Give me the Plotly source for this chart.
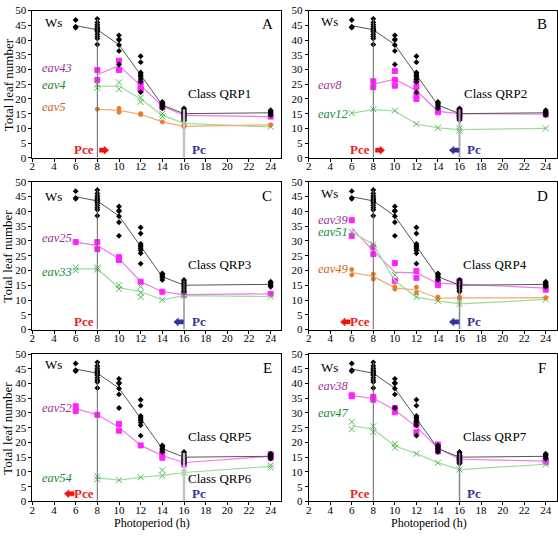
import plotly.graph_objects as go

# ---------------- data ----------------
photoperiods = [6, 8, 10, 12, 14, 16, 24]
x_ticks = [2, 4, 6, 8, 10, 12, 14, 16, 18, 20, 22, 24]
y_ticks = [0, 5, 10, 15, 20, 25, 30, 35, 40, 45, 50]

# wild type (Ws) individual plants and means
ws_points = [
    [44.2, 44.5, 46.8],
    [38.5, 40.5, 41.2, 42.0, 42.8, 43.2, 43.6, 44.0, 44.5, 45.2, 46.0, 47.2],
    [31.7, 36.3, 38.3, 40.0, 40.3, 41.6],
    [22.3, 25.8, 26.8, 27.5, 28.0, 28.5, 29.0, 32.5, 34.5],
    [16.8, 17.5, 18.0, 18.5, 18.8, 19.0],
    [12.8, 13.3, 14.0, 14.5, 15.0, 15.5, 16.0, 16.5, 16.8],
    [14.5, 15.0, 15.5, 15.8, 16.2],
]
ws_mean = [44.9, 43.5, 38.4, 28.3, 17.9, 15.0, 15.3]

# Panel A
eav43_x = [8, 10, 12, 14, 16, 24]
eav43_mean = [28.2, 31.3, 24.6, 17.6, 14.4, 14.0]
eav43_pts = [[26.5, 29.8], [29.8, 33.0], [23.2, 23.6, 25.5], [17.3, 18.0], [14.0, 15.0], [14.0]]
eav4_x = [8, 10, 12, 14, 16, 24]
eav4_mean = [24.3, 24.4, 20.0, 14.5, 11.7, 10.5]
eav4_pts = [[23.8, 24.8], [23.3, 25.6], [19.0, 20.5], [14.0, 15.0], [11.5, 12.0], [10.5]]
eav5_x = [8, 10, 12, 14, 16, 24]
eav5_mean = [16.5, 16.1, 14.8, 12.2, 10.7, 11.2]
eav5_pts = [[16.5], [15.5, 16.8], [14.7, 15.0], [12.2], [10.5, 11.0], [11.2]]

# Panel B
eav8_x = [8, 10, 12, 14, 16, 24]
eav8_mean = [25.0, 26.7, 22.8, 15.8, 15.0, 14.8]
eav8_pts = [[24.0, 26.0], [24.5, 26.5, 29.5], [20.0, 21.2, 24.0, 26.0], [15.5, 16.2], [13.8, 14.5, 15.5, 16.0], [14.7]]
eav12_x = [6, 8, 10, 12, 14, 16, 24]
eav12_mean = [15.2, 16.4, 15.9, 11.5, 10.2, 9.6, 10.0]
eav12_pts = [[15.2], [16.5], [16.0], [11.5], [10.2], [9.2, 10.0], [10.0]]

# Panel C
eav25_x = [6, 8, 10, 12, 14, 16, 24]
eav25_mean = [29.6, 28.4, 24.0, 16.2, 12.8, 11.8, 12.1]
eav25_pts = [[29.6], [27.2, 29.6], [23.5, 24.5], [16.2], [12.8], [11.8], [12.1]]
eav33_x = [6, 8, 10, 12, 14, 16, 24]
eav33_mean = [20.5, 20.5, 14.2, 12.8, 10.1, 11.5, 11.2]
eav33_pts = [[20.0, 21.0], [20.3, 21.0], [13.7, 15.0], [11.0, 12.5, 14.5], [10.1], [11.5], [11.2]]

# Panel D
eav39_x = [6, 8, 10, 12, 14, 16, 24]
eav39_mean = [34.3, 26.6, 19.4, 19.2, 15.6, 15.4, 14.0]
eav39_pts = [[31.7, 37.0], [25.5, 27.8], [16.5, 22.5], [17.5, 19.8], [15.0, 15.8, 16.2], [14.5, 15.5, 16.5], [13.5, 14.5]]
eav51_x = [6, 8, 10, 12, 14, 16, 24]
eav51_mean = [33.0, 28.8, 16.5, 11.0, 9.7, 8.7, 10.2]
eav51_pts = [[33.0], [28.8], [18.5], [11.0], [9.7], [8.7], [10.2]]
eav49_x = [6, 8, 10, 12, 14, 16, 24]
eav49_mean = [19.3, 18.0, 14.1, 13.4, 10.6, 10.7, 10.8]
eav49_pts = [[18.5, 20.3], [17.1, 18.8], [13.7, 14.5], [12.5, 14.3], [10.5, 11.0], [10.5, 11.0], [10.8]]

# Panel E
eav52_x = [6, 8, 10, 12, 14, 16, 24]
eav52_mean = [31.5, 29.4, 25.2, 19.0, 15.5, 13.2, 15.3]
eav52_pts = [[30.7, 32.3], [29.4], [24.0, 26.3], [19.0], [14.8, 16.3], [12.5, 13.8], [14.8, 15.5, 16.0]]
eav54_x = [8, 10, 12, 14, 16, 24]
eav54_mean = [8.0, 7.2, 8.2, 8.8, 9.8, 11.9]
eav54_pts = [[7.5, 8.5], [7.2], [8.2], [8.7, 10.6], [9.8], [11.5, 12.3]]

# Panel F
eav38_x = [6, 8, 10, 12, 14, 16, 24]
eav38_mean = [35.8, 35.0, 31.0, 25.3, 18.1, 14.3, 13.7]
eav38_pts = [[35.7, 36.0], [34.5, 35.5], [30.3, 31.7], [23.5, 26.0, 26.5], [17.0, 18.0, 19.3], [13.8, 14.8], [13.3, 14.0]]
eav47_x = [6, 8, 10, 12, 14, 16, 24]
eav47_mean = [25.7, 24.5, 18.8, 16.2, 13.1, 10.8, 12.6]
eav47_pts = [[24.5, 27.0], [23.5, 25.5], [18.2, 19.5], [16.2], [13.1], [10.8], [12.6]]

panel_letters = ["A", "B", "C", "D", "E", "F"]
class_labels = ["Class QRP1", "Class QRP2", "Class QRP3", "Class QRP4", "Class QRP5", "Class QRP7"]

# ---------------- styles ----------------
STY = {
    "mag": dict(line="#ee77ee", mk="#ff22ff", sym="square", size=5, lab="#993399"),
    "grn": dict(line="#99dd99", mk="#55bb55", sym="x-thin-open", size=6, lab="#228833"),
    "org": dict(line="#f4a86a", mk="#e87a2a", sym="circle", size=4, lab="#cc6622"),
}

panels = [
    dict(series=[("eav43", "mag", eav43_x, eav43_mean, eav43_pts, 30.5),
                 ("eav4", "grn", eav4_x, eav4_mean, eav4_pts, 24.7),
                 ("eav5", "org", eav5_x, eav5_mean, eav5_pts, 17.3)],
         ws_y=46.0, v16=("#c4c4c4", 2.5), pce_arrow="right", pc_arrow=None),
    dict(series=[("eav8", "mag", eav8_x, eav8_mean, eav8_pts, 24.7),
                 ("eav12", "grn", eav12_x, eav12_mean, eav12_pts, 15.0)],
         ws_y=46.2, v16=("#aaaaaa", 2.0), pce_arrow="right", pc_arrow="left"),
    dict(series=[("eav25", "mag", eav25_x, eav25_mean, eav25_pts, 31.1),
                 ("eav33", "grn", eav33_x, eav33_mean, eav33_pts, 19.6)],
         ws_y=45.0, v16=("#777777", 1.2), pce_arrow=None, pc_arrow="left"),
    dict(series=[("eav39", "mag", eav39_x, eav39_mean, eav39_pts, 37.2),
                 ("eav51", "grn", eav51_x, eav51_mean, eav51_pts, 32.9),
                 ("eav49", "org", eav49_x, eav49_mean, eav49_pts, 20.5)],
         ws_y=46.0, v16=("#888888", 1.5), pce_arrow="left", pc_arrow="left"),
    dict(series=[("eav52", "mag", eav52_x, eav52_mean, eav52_pts, 31.6),
                 ("eav54", "grn", eav54_x, eav54_mean, eav54_pts, 8.0)],
         ws_y=46.4, v16=("#c4c4c4", 2.5), pce_arrow="left", pc_arrow=None),
    dict(series=[("eav38", "mag", eav38_x, eav38_mean, eav38_pts, 39.3),
                 ("eav47", "grn", eav47_x, eav47_mean, eav47_pts, 30.1)],
         ws_y=45.4, v16=("#888888", 1.5), pce_arrow=None, pc_arrow=None),
]

col_dom = [[29.5 / 558, 280 / 558], [307.3 / 558, 556.5 / 558]]
row_dom = [[1 - 155.3 / 538, 1 - 4.7 / 538],
           [1 - 331 / 538, 1 - 179.7 / 538],
           [1 - 506.7 / 538, 1 - 356 / 538]]

SERIF = "Liberation Serif"
fig = go.Figure()
annotations = []
shapes = []


def flat(xs, pts):
    fx, fy = [], []
    for x, p in zip(xs, pts):
        for v in p:
            fx.append(x)
            fy.append(v)
    return fx, fy


def block_arrow(xa, ya, x_tail, x_head, yc, color):
    # block arrow drawn as a closed path in the panel's data space
    d = 1 if x_head > x_tail else -1
    hl = 0.42 * d   # head length (x units)
    bh = 0.7        # body half-height (y units)
    hh = 1.35       # head half-height (y units)
    xb = x_head - hl
    path = (f"M {x_tail},{yc - bh} L {xb},{yc - bh} L {xb},{yc - hh} L {x_head},{yc} "
            f"L {xb},{yc + hh} L {xb},{yc + bh} L {x_tail},{yc + bh} Z")
    return dict(type="path", xref=xa, yref=ya, path=path, fillcolor=color,
                line=dict(color=color, width=0.5))


for i, pan in enumerate(panels):
    k = i + 1
    xa = "x" if k == 1 else f"x{k}"
    ya = "y" if k == 1 else f"y{k}"
    r, c = i // 2, i % 2
    lay_x = "xaxis" if k == 1 else f"xaxis{k}"
    lay_y = "yaxis" if k == 1 else f"yaxis{k}"
    fig.layout[lay_x] = dict(
        domain=col_dom[c], range=[2, 25], anchor=ya, tickvals=x_ticks,
        ticks="outside", ticklen=3, tickwidth=1, tickcolor="black",
        ticklabelstandoff=-5,
        showline=True, linecolor="black", linewidth=1, mirror=True,
        showgrid=False, zeroline=False,
        tickfont=dict(family=SERIF, size=11, color="black"))
    fig.layout[lay_y] = dict(
        domain=row_dom[r], range=[0, 50], anchor=xa, tickvals=y_ticks,
        ticks="outside", ticklen=3, tickwidth=1, tickcolor="black",
        showline=True, linecolor="black", linewidth=1, mirror=True,
        showgrid=False, zeroline=False,
        tickfont=dict(family=SERIF, size=11, color="black"))

    # vertical reference lines
    shapes.append(dict(type="line", xref=xa, yref=ya, x0=8, x1=8, y0=0, y1=47.3,
                       line=dict(color="#666666", width=1)))
    shapes.append(dict(type="line", xref=xa, yref=ya, x0=16, x1=16, y0=0, y1=16.5,
                       line=dict(color=pan["v16"][0], width=pan["v16"][1])))

    # genotype series
    for name, sk, xs, mean, pts, laby in pan["series"]:
        s = STY[sk]
        fig.add_trace(go.Scatter(x=xs, y=mean, mode="lines", xaxis=xa, yaxis=ya,
                                 line=dict(color=s["line"], width=1.2),
                                 showlegend=False, hoverinfo="skip"))
        fx, fy = flat(xs, pts)
        fig.add_trace(go.Scatter(x=fx, y=fy, mode="markers", xaxis=xa, yaxis=ya,
                                 marker=dict(symbol=s["sym"], size=s["size"], color=s["mk"],
                                             line=dict(color=s["mk"], width=1)),
                                 showlegend=False, name=name))
        annotations.append(dict(x=2.7, y=laby, xref=xa, yref=ya, text=f"<i>{name}</i>",
                                showarrow=False, xanchor="left", yanchor="middle",
                                font=dict(family=SERIF, size=12.5, color=s["lab"])))

    # wild type
    fig.add_trace(go.Scatter(x=photoperiods, y=ws_mean, mode="lines", xaxis=xa, yaxis=ya,
                             line=dict(color="#555555", width=1),
                             showlegend=False, hoverinfo="skip"))
    fx, fy = flat(photoperiods, ws_points)
    fig.add_trace(go.Scatter(x=fx, y=fy, mode="markers", xaxis=xa, yaxis=ya,
                             marker=dict(symbol="diamond", size=4.5, color="black"),
                             showlegend=False, name="Ws"))

    # texts
    annotations.append(dict(x=3.0, y=pan["ws_y"], xref=xa, yref=ya, text="Ws", showarrow=False,
                            xanchor="left", yanchor="middle",
                            font=dict(family=SERIF, size=13, color="black")))
    annotations.append(dict(x=23.7, y=45.3, xref=xa, yref=ya, text=panel_letters[i], showarrow=False,
                            xanchor="center", yanchor="middle",
                            font=dict(family=SERIF, size=15, color="black")))
    annotations.append(dict(x=19.3, y=22.0, xref=xa, yref=ya, text=class_labels[i], showarrow=False,
                            xanchor="center", yanchor="middle",
                            font=dict(family=SERIF, size=13, color="black")))
    if k == 5:
        annotations.append(dict(x=19.3, y=7.8, xref=xa, yref=ya, text="Class QRP6", showarrow=False,
                                xanchor="center", yanchor="middle",
                                font=dict(family=SERIF, size=13, color="black")))
    annotations.append(dict(x=6.75, y=2.7, xref=xa, yref=ya, text="<b>Pce</b>", showarrow=False,
                            xanchor="center", yanchor="middle",
                            font=dict(family=SERIF, size=13, color="#ee2222")))
    annotations.append(dict(x=17.35, y=2.7, xref=xa, yref=ya, text="<b>Pc</b>", showarrow=False,
                            xanchor="center", yanchor="middle",
                            font=dict(family=SERIF, size=13, color="#333399")))
    if pan["pce_arrow"] == "right":
        shapes.append(block_arrow(xa, ya, 8.2, 9.05, 2.6, "#ee1111"))
    elif pan["pce_arrow"] == "left":
        shapes.append(block_arrow(xa, ya, 5.85, 4.95, 2.6, "#ee1111"))
    if pan["pc_arrow"] == "left":
        shapes.append(block_arrow(xa, ya, 15.95, 15.05, 2.6, "#333399"))

# axis titles
for yc in [(row_dom[r][0] + row_dom[r][1]) / 2 for r in range(3)]:
    annotations.append(dict(x=5 / 558, y=yc, xref="paper", yref="paper", text="Total leaf number",
                            textangle=-90, showarrow=False, xanchor="center", yanchor="middle",
                            font=dict(family=SERIF, size=13, color="black")))
for xc in [150 / 558, 428 / 558]:
    annotations.append(dict(x=xc, y=0, xref="paper", yref="paper", text="Photoperiod (h)",
                            showarrow=False, xanchor="center", yanchor="bottom",
                            font=dict(family=SERIF, size=12, color="black")))

fig.update_layout(width=558, height=538, margin=dict(l=0, r=0, t=0, b=0),
                  paper_bgcolor="white", plot_bgcolor="white",
                  annotations=annotations, shapes=shapes)
fig.write_html("out.html", config={"displayModeBar": False},
               post_script="document.body.style.margin='0';")
